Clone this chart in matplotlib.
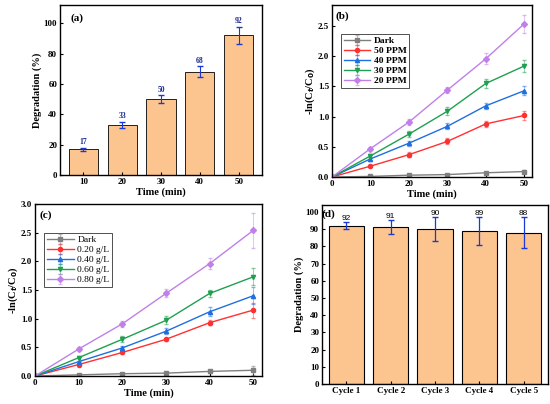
import matplotlib
matplotlib.use("Agg")
import matplotlib.pyplot as plt
import numpy as np

plt.rcParams['font.family'] = 'Liberation Serif'
plt.rcParams['font.weight'] = 'bold'
plt.rcParams['axes.labelweight'] = 'bold'
plt.rcParams['font.size'] = 7

times_a = ['10', '20', '30', '40', '50']
deg_a = [17, 33, 50, 68, 92]
err_a = [1.0, 2.0, 2.5, 3.5, 5.5]

t = [0, 10, 20, 30, 40, 50]
b_labels = ['Dark', '50 PPM', '40 PPM', '30 PPM', '20 PPM']
b_vals = [[0, 0.01, 0.03, 0.04, 0.07, 0.09],
          [0, 0.18, 0.37, 0.59, 0.88, 1.02],
          [0, 0.30, 0.56, 0.84, 1.18, 1.43],
          [0, 0.35, 0.71, 1.09, 1.55, 1.84],
          [0, 0.47, 0.91, 1.44, 1.96, 2.54]]
b_err = [[0, 0.01, 0.01, 0.01, 0.01, 0.02],
         [0, 0.02, 0.04, 0.05, 0.05, 0.07],
         [0, 0.03, 0.04, 0.05, 0.05, 0.07],
         [0, 0.03, 0.05, 0.07, 0.07, 0.10],
         [0, 0.03, 0.05, 0.05, 0.09, 0.15]]
c_labels = ['Dark', '0.20 g/L', '0.40 g/L', '0.60 g/L', '0.80 g/L']
c_vals = [[0, 0.02, 0.04, 0.05, 0.08, 0.10],
          [0, 0.20, 0.41, 0.64, 0.93, 1.15],
          [0, 0.25, 0.49, 0.78, 1.12, 1.40],
          [0, 0.32, 0.64, 0.97, 1.44, 1.73],
          [0, 0.47, 0.91, 1.44, 1.96, 2.54]]
c_err = [[0, 0.01, 0.01, 0.02, 0.02, 0.08],
         [0, 0.02, 0.03, 0.03, 0.04, 0.13],
         [0, 0.02, 0.03, 0.05, 0.08, 0.15],
         [0, 0.03, 0.05, 0.07, 0.06, 0.15],
         [0, 0.03, 0.05, 0.07, 0.09, 0.30]]
cycles = ['Cycle 1', 'Cycle 2', 'Cycle 3', 'Cycle 4', 'Cycle 5']
deg_d = [92, 91, 90, 89, 88]
err_d = [2, 4, 7, 8, 9]

colors = ['#7f7f7f', '#ff3030', '#1f6fe0', '#1fa050', '#c080e8']
markers = ['s', 'o', '^', 'v', 'D']
barc = '#FCC48F'

fig = plt.figure(figsize=(5.5, 4.04), dpi=100)
W, H = 550, 404
def ax_at(x0, y0, x1, y1):
    return fig.add_axes([x0 / W, 1 - y1 / H, (x1 - x0) / W, (y1 - y0) / H])

axa = ax_at(60, 5, 262, 175)
axb = ax_at(332, 5, 532, 177)
axc = ax_at(35, 204, 262, 376)
axd = ax_at(322, 205, 548, 384)

def style(ax):
    ax.tick_params(direction='in', length=2.5, width=0.8, labelsize=6.5, pad=2)
    for s in ax.spines.values():
        s.set_linewidth(1.0)

x = np.arange(5)
axa.bar(x, deg_a, 0.75, color=barc, edgecolor='black', linewidth=0.6)
axa.errorbar(x, deg_a, yerr=err_a, fmt='none', ecolor='#1a3ad8', capsize=2, elinewidth=0.8)
for i, v in enumerate(deg_a):
    axa.text(i, v + err_a[i] + 1, str(v), ha='center', va='bottom', fontsize=5.5, color='#1a2a90')
axa.set_xticks(x, times_a)
axa.set_xlim(-0.6, 4.6)
axa.set_ylim(0, 112)
axa.set_yticks(range(0, 101, 20))
axa.set_xlabel('Time (min)', fontsize=7.5, labelpad=1)
axa.set_ylabel('Degradation (%)', fontsize=7.5, labelpad=1)
axa.text(0.05, 0.95, '(a)', transform=axa.transAxes, fontsize=8, va='top')
style(axa)

def lines(ax, labels, vals, errs, ylim, yt, tag, legy):
    for i in range(5):
        ax.errorbar(t, vals[i], yerr=errs[i], color=colors[i], marker=markers[i], ms=3,
                    lw=1, capsize=1.5, elinewidth=0.6, ecolor=colors[i] + '88', label=labels[i])
    ax.set_xlim(0, 52)
    ax.set_ylim(*ylim)
    ax.set_yticks(yt)
    ax.set_yticklabels([f'{v:.1f}' for v in yt])
    ax.set_xticks(t)
    ax.set_xlabel('Time (min)', fontsize=7.5, labelpad=1)
    ax.set_ylabel('-ln(C$_t$/C$_0$)', fontsize=7.5, labelpad=1)
    ax.text(0.02, 0.96, tag, transform=ax.transAxes, fontsize=8, va='top')
    leg = ax.legend(loc='upper left', bbox_to_anchor=(0.02, legy), fontsize=6.8, frameon=True,
                    fancybox=False, edgecolor='black', handlelength=2.8, borderpad=0.3,
                    labelspacing=0.15, handletextpad=0.4)
    leg.get_frame().set_linewidth(0.6)
    style(ax)

lines(axb, b_labels, b_vals, b_err, (0, 2.85), [0, 0.5, 1.0, 1.5, 2.0, 2.5], '(b)', 0.86)
lines(axc, c_labels, c_vals, c_err, (0, 3.0), [0, 0.5, 1.0, 1.5, 2.0, 2.5, 3.0], '(c)', 0.86)
for txt in axc.get_legend().get_texts():
    txt.set_fontweight('normal')

axd.bar(x, deg_d, 0.8, color=barc, edgecolor='black', linewidth=0.8)
axd.errorbar(x, deg_d, yerr=err_d, fmt='none', ecolor='#1a3ad8', capsize=2, elinewidth=0.9)
for i, v in enumerate(deg_d):
    axd.text(i, v + err_d[i] + 0.3, str(v), ha='center', va='bottom', fontsize=6,
             fontweight='normal', family='Liberation Sans')
axd.set_xticks(x, cycles)
axd.set_xlim(-0.55, 4.55)
axd.set_ylim(0, 104)
axd.set_yticks(range(0, 101, 10))
axd.set_ylabel('Degradation (%)', fontsize=7.5, labelpad=1)
axd.text(0.0, 0.975, '(d)', transform=axd.transAxes, fontsize=8, va='top')
style(axd)

fig.savefig('out.png', dpi=100)
